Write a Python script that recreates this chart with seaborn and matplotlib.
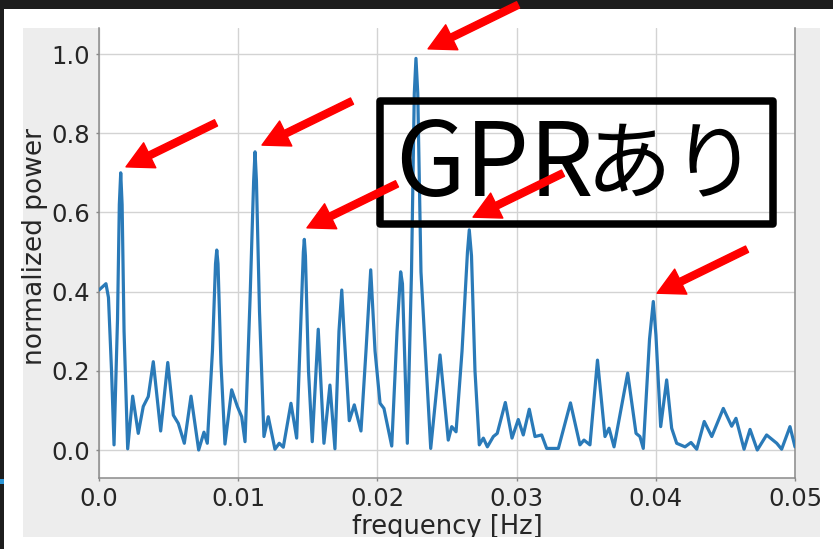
import matplotlib
matplotlib.use("Agg")
import matplotlib.pyplot as plt
from matplotlib.patches import Rectangle
import pandas as pd
import seaborn as sns

# Normalized periodogram (frequency in Hz, power normalized to the maximum)
freq_hz = [
    0.00000, 0.00050, 0.00068, 0.00090, 0.00108, 0.00133, 0.00146, 0.00156,
    0.00166, 0.00180, 0.00206, 0.00242, 0.00282, 0.00318, 0.00354, 0.00390,
    0.00443, 0.00494, 0.00534, 0.00570, 0.00613, 0.00661, 0.00716, 0.00754,
    0.00778, 0.00815, 0.00837, 0.00846, 0.00855, 0.00876, 0.00905, 0.00953,
    0.00994, 0.01025, 0.01049, 0.01085, 0.01111, 0.01121, 0.01131, 0.01153,
    0.01185, 0.01216, 0.01264, 0.01295, 0.01324, 0.01379, 0.01420, 0.01448,
    0.01468, 0.01475, 0.01483, 0.01505, 0.01532, 0.01575, 0.01616, 0.01659,
    0.01695, 0.01724, 0.01744, 0.01760, 0.01798, 0.01834, 0.01882, 0.01918,
    0.01952, 0.01983, 0.02019, 0.02047, 0.02103, 0.02141, 0.02167, 0.02180,
    0.02215, 0.02245, 0.02265, 0.02277, 0.02290, 0.02313, 0.02383, 0.02450,
    0.02509, 0.02534, 0.02565, 0.02608, 0.02647, 0.02660, 0.02676, 0.02701,
    0.02732, 0.02761, 0.02790, 0.02833, 0.02861, 0.02919, 0.02967, 0.03012,
    0.03048, 0.03091, 0.03132, 0.03180, 0.03216, 0.03300, 0.03387, 0.03455,
    0.03484, 0.03527, 0.03581, 0.03635, 0.03664, 0.03700, 0.03798, 0.03858,
    0.03886, 0.03910, 0.03955, 0.03982, 0.04001, 0.04035, 0.04078, 0.04114,
    0.04150, 0.04210, 0.04253, 0.04294, 0.04348, 0.04402, 0.04485, 0.04545,
    0.04576, 0.04634, 0.04677, 0.04729, 0.04796, 0.04869, 0.04904, 0.04964,
    0.05000,
]
norm_power = [
    0.404, 0.420, 0.385, 0.200, 0.013, 0.330, 0.620, 0.700,
    0.620, 0.300, 0.003, 0.136, 0.042, 0.110, 0.135, 0.223,
    0.048, 0.221, 0.088, 0.067, 0.017, 0.136, 0.000, 0.045,
    0.017, 0.250, 0.470, 0.505, 0.470, 0.220, 0.015, 0.152,
    0.110, 0.084, 0.021, 0.380, 0.680, 0.753, 0.680, 0.350,
    0.034, 0.084, 0.002, 0.017, 0.007, 0.118, 0.030, 0.300,
    0.500, 0.532, 0.490, 0.200, 0.021, 0.305, 0.017, 0.164,
    0.003, 0.300, 0.404, 0.300, 0.074, 0.114, 0.048, 0.250,
    0.455, 0.250, 0.118, 0.105, 0.010, 0.300, 0.450, 0.420,
    0.017, 0.450, 0.900, 0.989, 0.900, 0.450, 0.004, 0.240,
    0.025, 0.059, 0.046, 0.250, 0.500, 0.556, 0.490, 0.200,
    0.013, 0.030, 0.008, 0.034, 0.042, 0.120, 0.030, 0.077,
    0.038, 0.103, 0.034, 0.038, 0.004, 0.004, 0.119, 0.013,
    0.025, 0.013, 0.227, 0.034, 0.055, 0.008, 0.194, 0.042,
    0.034, 0.004, 0.280, 0.375, 0.290, 0.059, 0.177, 0.055,
    0.017, 0.008, 0.019, 0.002, 0.072, 0.034, 0.105, 0.060,
    0.080, 0.002, 0.052, 0.000, 0.038, 0.017, 0.002, 0.059,
    0.008,
]

# Peaks highlighted with arrows (arrow tip positions)
arrow_freq = [0.00194, 0.01171, 0.02364, 0.01494, 0.02687, 0.04009]
arrow_power = [0.715, 0.770, 1.013, 0.561, 0.588, 0.396]

x_ticks = [0.0, 0.01, 0.02, 0.03, 0.04, 0.05]
x_tick_labels = ["0.0", "0.01", "0.02", "0.03", "0.04", "0.05"]
y_ticks = [0.0, 0.2, 0.4, 0.6, 0.8, 1.0]
y_tick_labels = ["0.0", "0.2", "0.4", "0.6", "0.8", "1.0"]

sns.set_theme(style="whitegrid")
plt.rcParams["font.family"] = ["DejaVu Sans", "Noto Sans CJK JP"]

W, H = 833, 549
fig = plt.figure(figsize=(W / 100, H / 100), dpi=100, facecolor="#1d1d1d")


def px_rect(x0, y0, x1, y1, color, z):
    """Filled rectangle given in pixels measured from the top-left corner."""
    fig.add_artist(Rectangle((x0 / W, 1 - y1 / H), (x1 - x0) / W, (y1 - y0) / H,
                             transform=fig.transFigure, facecolor=color,
                             edgecolor="none", zorder=z))


px_rect(4, 9, W, H, "white", -10)
px_rect(23, 28, 820, 537, "#ededed", -9)
px_rect(0, 479, 4, 484, "#2b95d6", -9)

ax = fig.add_axes([99 / W, 1 - 478 / H, 696 / W, 450 / H])
ax.set_facecolor("white")

df = pd.DataFrame({"frequency": freq_hz, "power": norm_power})
sns.lineplot(data=df, x="frequency", y="power", ax=ax, color="#2a7ab8",
             lw=2.3, estimator=None, sort=False, zorder=3,
             solid_joinstyle="round")

ax.set_xlim(0, 0.05)
ax.set_ylim(-0.0707, 1.0657)
ax.set_xticks(x_ticks, x_tick_labels)
ax.set_yticks(y_ticks, y_tick_labels)
ax.tick_params(axis="both", labelsize=17.5, length=2.5, width=1,
               color="#888888", labelcolor="#262626", pad=3.8,
               left=True, bottom=True)
ax.grid(True, color="#d3d3d3", lw=1.0)

for side in ["left", "bottom", "right"]:
    ax.spines[side].set_visible(True)
    ax.spines[side].set_color("#8a8a8a")
    ax.spines[side].set_linewidth(1.1)
ax.spines["top"].set_visible(False)

ax.set_xlabel("frequency [Hz]", fontsize=18.5, color="#262626")
ax.xaxis.set_label_coords(0.5, -0.1244)
ax.xaxis.label.set_verticalalignment("baseline")
ax.set_ylabel("normalized power", fontsize=19, color="#262626")
ax.yaxis.set_label_coords(-0.0819, 0.514)
ax.yaxis.label.set_verticalalignment("baseline")

# Framed caption
ax.add_patch(Rectangle((0.4037, 0.5644), 0.5647, 0.2734, transform=ax.transAxes,
                       fill=False, edgecolor="black", lw=5.4,
                       joinstyle="round", clip_on=False, zorder=4))
cap_font = "Noto Sans CJK JP"
ax.text(0.4253, 0.6267, "GPR", transform=ax.transAxes, fontsize=73,
        family=cap_font, ha="left", va="baseline", color="black", zorder=5)
ax.text(0.6990, 0.6356, "あり", transform=ax.transAxes, fontsize=62,
        family=cap_font, ha="left", va="baseline", color="black", zorder=5)

for f, p in zip(arrow_freq, arrow_power):
    ax.annotate("", xy=(f, p), xytext=(90, 44), textcoords="offset pixels",
                arrowprops=dict(arrowstyle="simple,head_length=1.9,head_width=2.0,tail_width=0.5",
                                mutation_scale=10, color="#ff0000",
                                shrinkA=0, shrinkB=0),
                annotation_clip=False, zorder=6)

# Bottom strip of the page below the plot panel
px_rect(4, 537, W, H, "white", 5)

fig.savefig("out.png", dpi=100, facecolor=fig.get_facecolor())
